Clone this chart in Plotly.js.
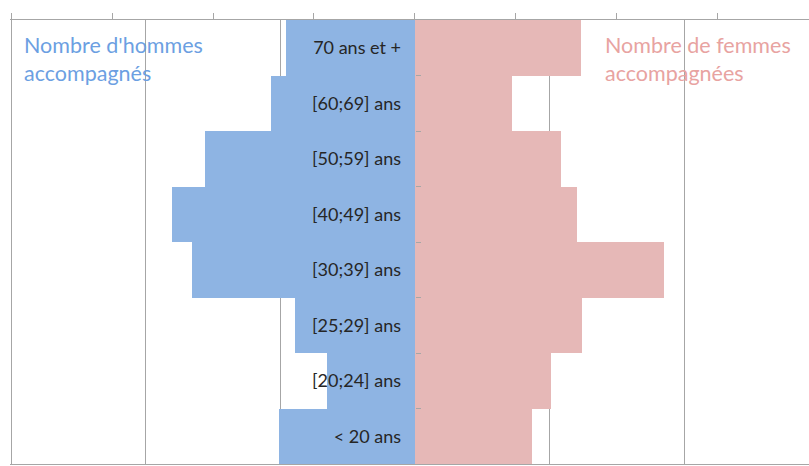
<!DOCTYPE html>
<html>
<head>
<meta charset="utf-8">
<script src="https://cdn.plot.ly/plotly-3.0.1.min.js"></script>
<style>html,body{margin:0;padding:0;background:#fff;}</style>
</head>
<body>
<div id="chart" style="width:809px;height:466px;"></div>
<script>
// Age groups, bottom to top
var categories = ["< 20 ans", "[20;24] ans", "[25;29] ans", "[30;39] ans", "[40;49] ans", "[50;59] ans", "[60;69] ans", "70 ans et +"];
// Number of men accompanied (drawn to the left)
var hommes = [20.2, 13.0, 17.8, 33.1, 36.1, 31.2, 21.4, 19.2];
// Number of women accompanied (drawn to the right)
var femmes = [17.4, 20.2, 24.8, 37.0, 24.0, 21.7, 14.4, 24.7];

var labelHommes = "Nombre d'hommes<br>accompagnés";
var labelFemmes = "Nombre de femmes<br>accompagnées";

var xRange = [-60.15, 58.52];

var traces = [
  {
    type: 'bar', orientation: 'h',
    y: categories,
    x: hommes.map(function (v) { return -v; }),
    marker: {color: '#8eb4e3', line: {width: 0}},
    xaxis: 'x', yaxis: 'y',
    hoverinfo: 'none', showlegend: false
  },
  {
    type: 'bar', orientation: 'h',
    y: categories,
    x: femmes,
    marker: {color: '#e6b8b7', line: {width: 0}},
    xaxis: 'x2', yaxis: 'y',
    hoverinfo: 'none', showlegend: false
  }
];

var layout = {
  width: 809, height: 466,
  margin: {l: 10, r: 0, t: 20, b: 2, pad: 0},
  paper_bgcolor: '#ffffff', plot_bgcolor: '#ffffff',
  barmode: 'overlay', bargap: 0,
  showlegend: false,
  font: {family: 'Lato, "Open Sans", sans-serif', color: '#262626'},
  xaxis: {
    range: xRange, side: 'top', dtick: 15, tick0: 0,
    showline: true, linecolor: '#a6a6a6', linewidth: 1, mirror: true,
    ticks: 'outside', ticklen: 6, tickcolor: '#a6a6a6', tickwidth: 1,
    showticklabels: false, showgrid: false, zeroline: false, fixedrange: true
  },
  xaxis2: {
    overlaying: 'x', range: xRange, side: 'top', dtick: 20, tick0: 0,
    showgrid: true, gridcolor: '#a6a6a6', gridwidth: 1,
    ticks: '', showticklabels: false, showline: false, zeroline: false, fixedrange: true
  },
  yaxis: {
    type: 'category', categoryorder: 'array', categoryarray: categories,
    anchor: 'free', position: 0.50689,
    tickson: 'boundaries', ticks: 'inside', ticklen: 5, tickcolor: '#a6a6a6',
    ticklabelstandoff: 14,
    tickfont: {family: 'Lato, sans-serif', size: 18, color: '#262626'},
    showgrid: false, zeroline: false, showline: false, fixedrange: true
  },
  annotations: [
    {
      xref: 'paper', yref: 'paper', x: 0.0155, y: 0.978,
      xanchor: 'left', yanchor: 'top', align: 'left', showarrow: false,
      text: labelHommes,
      font: {family: 'Lato, sans-serif', size: 21.5, color: '#6c9fe2'}
    },
    {
      xref: 'paper', yref: 'paper', x: 0.7425, y: 0.978,
      xanchor: 'left', yanchor: 'top', align: 'left', showarrow: false,
      text: labelFemmes,
      font: {family: 'Lato, sans-serif', size: 21.5, color: '#e8a3a1'}
    }
  ]
};

Plotly.newPlot('chart', traces, layout, {staticPlot: true, displayModeBar: false});
</script>
</body>
</html>
